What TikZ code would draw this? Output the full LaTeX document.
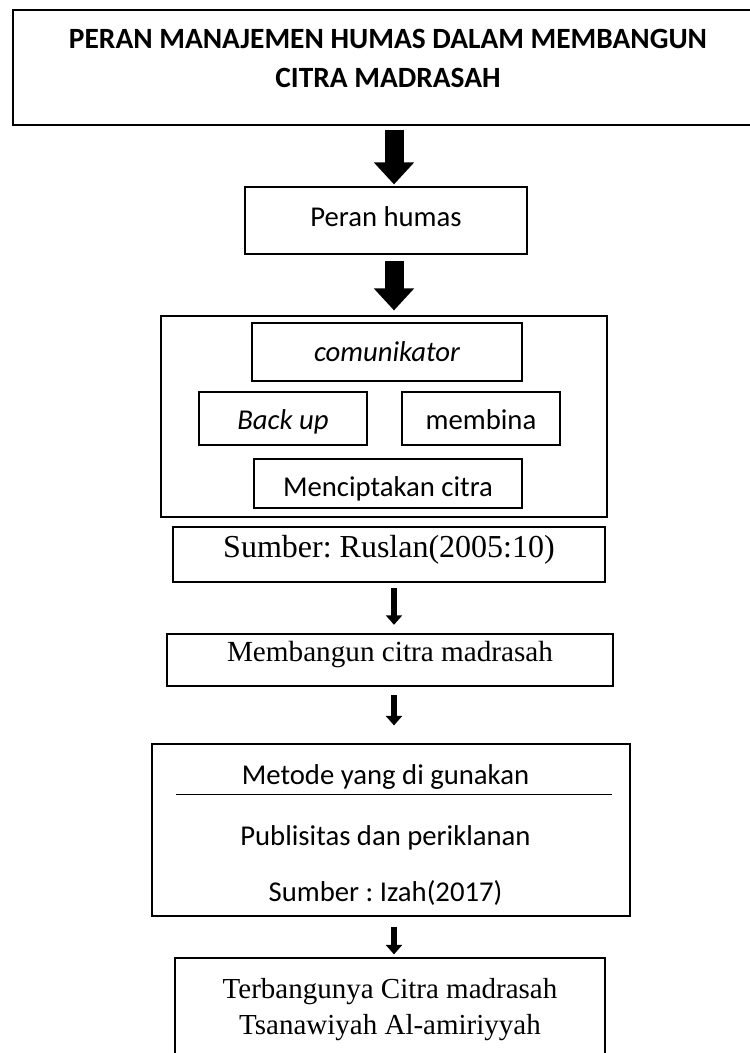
\documentclass[tikz,border=0pt]{standalone}
\usepackage{fontspec}
\setmainfont{Carlito}
\newfontfamily\timesfont{Liberation Serif}
\usetikzlibrary{arrows.meta}
\frenchspacing
\tikzset{
	box/.style={draw, line width=1.2pt, inner sep=0pt},
	boldbox/.style={draw, line width=2.4pt, inner sep=0pt},
	lift/.style={text height=#1, text depth=0pt},
	serif/.style={font=\timesfont\fontsize{#1}{36}\selectfont},
	bigarrow/.style={line width=19pt, -{Triangle[length=22pt,width=39pt]}},
	smallarrow/.style={line width=6pt, -{Triangle[length=9.5pt,width=16pt]}}
}

\begin{document}
\begin{tikzpicture}[x=1pt, y=-1pt, font=\fontsize{28.7}{34}\selectfont]
\useasboundingbox (0,0) rectangle (750,1053);
% Judul
\node[box, minimum width=750pt, minimum height=115pt, align=center, font=\fontsize{29.4}{39}\selectfont\bfseries, lift=39pt] (judul) at (388,67.5) {PERAN MANAJEMEN HUMAS DALAM MEMBANGUN\\CITRA MADRASAH};
\node[box, minimum width=282pt, minimum height=67pt, lift=11pt] (peran) at (386,220.5) {Peran humas};
% Peran humas
\node[box, minimum width=446pt, minimum height=201pt] (wadah) at (384,416.5) {};
\node[box, minimum width=270pt, minimum height=58pt, lift=19.4pt] (komunikator) at (387,352) {\itshape comunikator};
\node[box, minimum width=168pt, minimum height=53pt, lift=21pt] (backup) at (283,418.5) {\itshape Back up};
\node[box, minimum width=158pt, minimum height=53pt, lift=21pt] (membina) at (481,418.5) {membina};
\node[box, minimum width=268pt, minimum height=49pt, lift=25pt] (cipta) at (388,483.5) {Menciptakan citra};
\node[boldbox, minimum width=432pt, minimum height=55pt, lift=5pt, serif=32] (ruslan) at (389,554.5) {Sumber: Ruslan(2005:10)};
% Membangun citra
\node[boldbox, minimum width=446pt, minimum height=52pt, lift=2pt, serif=29.2] (bangun) at (390,660) {Membangun citra madrasah};
% Metode
\node[box, minimum width=478pt, minimum height=172pt] (metode) at (391,830) {};
\node[anchor=base] (metodejudul) at (385.5,784) {Metode yang di gunakan};
\draw[line width=1pt] (176,794) -- (612,794);
\node[anchor=base] (publisitas) at (385.5,845) {Publisitas dan periklanan};
\node[anchor=base] (izah) at (385.5,901) {Sumber : Izah(2017)};
% Hasil
\node[box, minimum width=430pt, minimum height=100pt, align=center, serif=29, lift=52pt] (hasil) at (390,1008) {Terbangunya Citra madrasah\\Tsanawiyah Al-amiriyyah};
% Panah
\coordinate (poros) at (394,0);
\foreach \a/\b/\s/\e in {judul/peran/4/2, peran/wadah/6/5}
  \draw[bigarrow, shorten <=\s pt, shorten >=\e pt] (\a.south -| poros) -- (\b.north -| poros);
\foreach \a/\b/\s/\e in {ruslan/bangun/5/8, bangun/metode/8/18, metode/hasil/10/3}
  \draw[smallarrow, shorten <=\s pt, shorten >=\e pt] (\a.south -| poros) -- (\b.north -| poros);
\end{tikzpicture}
\end{document}
